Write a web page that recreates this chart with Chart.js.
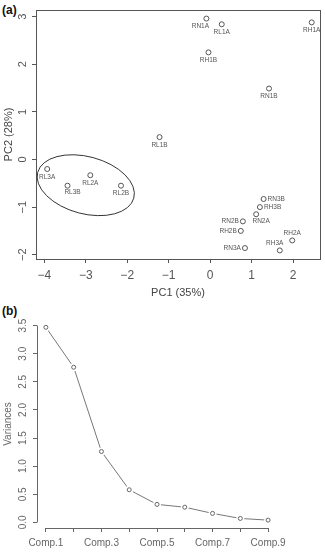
<!DOCTYPE html>
<html>
<head>
<meta charset="utf-8">
<script src="https://cdn.jsdelivr.net/npm/chart.js@4"></script>
<style>
 body{margin:0;background:#fff;width:325px;height:552px;position:relative;overflow:hidden;font-family:"Liberation Sans",Arial,sans-serif;}
 canvas{position:absolute;left:0;}
 #canvas_a{top:0;}
 #canvas_b{top:300px;}
 .panel{position:absolute;left:2px;font-weight:bold;font-size:12px;color:#111;}
</style>
</head>
<body>
<div class="panel" style="top:3px;">(a)</div>
<div class="panel" style="top:304px;">(b)</div>
<canvas id="canvas_a" width="325" height="300"></canvas>
<canvas id="canvas_b" width="325" height="252"></canvas>
<script>
// data (a) - PCA scores
var sample_names=["RN1A","RL1A","RH1A","RH1B","RN1B","RL1B","RL3A","RL2A","RL3B","RL2B","RN3B","RH3B","RN2A","RN2B","RH2B","RH2A","RH3A","RN3A"];
var pc1_values=[-0.09,0.28,2.45,-0.04,1.42,-1.22,-3.93,-2.89,-3.44,-2.15,1.29,1.20,1.11,0.79,0.74,1.98,1.68,0.84];
var pc2_values=[2.96,2.84,2.88,2.25,1.49,0.47,-0.20,-0.33,-0.55,-0.55,-0.83,-1.00,-1.15,-1.30,-1.50,-1.70,-1.91,-1.86];
var label_side=["bl","b","b","b","b","b","b","b","br","b","r","r","br","l","l","a","al","l"];
var pc1_ticks=[-4,-3,-2,-1,0,1,2];
var pc2_ticks=[-2,-1,0,1,2,3];
// data (b) - scree plot
var comp_labels=["Comp.1","Comp.2","Comp.3","Comp.4","Comp.5","Comp.6","Comp.7","Comp.8","Comp.9"];
var variances=[3.47,2.76,1.26,0.58,0.32,0.27,0.16,0.07,0.04];
var variance_ticks=[0,0.5,1,1.5,2,2.5,3,3.5];

var font_family='"Liberation Sans", Arial, sans-serif';
function minus(v){return String(v).replace("-","\u2212");}

/* box round the plot region + sample labels + ellipse */
var pca_plugin={
 id:"pca_plugin",
 afterDatasetsDraw:function(chart){
  var ctx=chart.ctx,a=chart.chartArea,xs=chart.scales.x,ys=chart.scales.y;
  ctx.save();
  // box
  ctx.strokeStyle="#555";ctx.lineWidth=1;
  ctx.strokeRect(Math.round(a.left)+0.5,Math.round(a.top)+0.5,Math.round(a.right-a.left),Math.round(a.bottom-a.top));
  // ellipse round the RL2/RL3 group
  var cx=xs.getPixelForValue(-3.0),cy=ys.getPixelForValue(-0.54);
  var rx=xs.getPixelForValue(-3.0+1.2)-cx,ry=ys.getPixelForValue(-0.54-0.6)-cy;
  ctx.beginPath();ctx.ellipse(cx,cy,rx,ry,15*Math.PI/180,0,2*Math.PI);
  ctx.strokeStyle="#333";ctx.stroke();
  // sample labels
  ctx.font="6.5px "+font_family;ctx.fillStyle="#555";
  var off={b:[0,8,"center"],bl:[-6,8,"center"],br:[5,7,"center"],l:[-4,0,"right"],r:[4,0,"left"],a:[0,-7,"center"],al:[-5,-7,"center"]};
  for(var i=0;i<sample_names.length;i++){
   var px=xs.getPixelForValue(pc1_values[i]),py=ys.getPixelForValue(pc2_values[i]);
   var o=off[label_side[i]];
   ctx.textAlign=o[2];ctx.textBaseline="middle";
   ctx.fillText(sample_names[i],px+o[0],py+o[1]);
  }
  ctx.restore();
 }
};

/* R style axis lines, only from first to last tick */
var r_axis_plugin={
 id:"r_axis_plugin",
 afterDraw:function(chart){
  var ctx=chart.ctx,a=chart.chartArea,xs=chart.scales.x,ys=chart.scales.y;
  ctx.save();
  ctx.strokeStyle="#666";ctx.lineWidth=1;
  ctx.beginPath();
  var xl=Math.round(a.left)+0.5,yb=Math.round(a.bottom)+0.5;
  ctx.moveTo(xl,ys.getPixelForValue(variance_ticks[0]));
  ctx.lineTo(xl,ys.getPixelForValue(variance_ticks[variance_ticks.length-1]));
  ctx.moveTo(xs.getPixelForValue(1),yb);
  ctx.lineTo(xs.getPixelForValue(comp_labels.length),yb);
  ctx.stroke();
  ctx.restore();
 }
};

// chart (a)
var ctx_a=document.getElementById("canvas_a").getContext("2d");
var points_a=pc1_values.map(function(v,i){return{x:v,y:pc2_values[i]};});
var chart_a=new Chart(ctx_a,{
 type:"scatter",
 data:{datasets:[{
  data:points_a,
  pointRadius:2.5,
  pointBorderWidth:1,
  pointBorderColor:"#555",
  pointBackgroundColor:"rgba(0,0,0,0)"
 }]},
 options:{
  responsive:false,
  animation:false,
  devicePixelRatio:1,
  layout:{padding:{top:10,right:2,left:0,bottom:0}},
  plugins:{legend:{display:false},tooltip:{enabled:false}},
  scales:{
   x:{
    type:"linear",min:-4.2,max:2.65,
    afterBuildTicks:function(s){s.ticks=pc1_ticks.map(function(v){return{value:v};});},
    afterFit:function(s){s.height=41;},
    border:{display:false},
    grid:{drawOnChartArea:false,drawTicks:true,tickLength:4,color:"#555"},
    ticks:{padding:5,color:"#555",font:{family:font_family,size:12},maxRotation:0,autoSkip:false,callback:function(v){return minus(v);}},
    title:{display:true,text:"PC1 (35%)",color:"#444",font:{family:font_family,size:11},padding:{top:0,bottom:0}}
   },
   y:{
    type:"linear",min:-2.09,max:3.14,
    afterBuildTicks:function(s){s.ticks=pc2_ticks.map(function(v){return{value:v};});},
    afterFit:function(s){s.width=36;},
    border:{display:false},
    grid:{drawOnChartArea:false,drawTicks:true,tickLength:4,color:"#555"},
    ticks:{padding:3,color:"#555",font:{family:font_family,size:11},minRotation:90,maxRotation:90,crossAlign:"center",autoSkip:false,callback:function(v){return minus(v);}},
    title:{display:true,text:"PC2 (28%)",color:"#444",font:{family:font_family,size:11},padding:{top:2,bottom:0}}
   }
  }
 },
 plugins:[pca_plugin]
});

// chart (b)
var ctx_b=document.getElementById("canvas_b").getContext("2d");
var points_b=variances.map(function(v,i){return{x:i+1,y:v};});
var chart_b=new Chart(ctx_b,{
 type:"line",
 data:{datasets:[
  // connecting line (drawn first)
  {data:points_b,order:3,borderColor:"#777",borderWidth:1,pointRadius:0,fill:false,tension:0},
  // white gap round each point (R type="b")
  {data:points_b,order:2,showLine:false,pointRadius:4,pointBorderWidth:0,pointBackgroundColor:"#fff",pointBorderColor:"#fff"},
  // open circles (drawn last)
  {data:points_b,order:1,showLine:false,pointRadius:2,pointBorderWidth:1,pointBorderColor:"#666",pointBackgroundColor:"#fff"}
 ]},
 options:{
  responsive:false,
  animation:false,
  devicePixelRatio:1,
  layout:{padding:{top:20,right:48,left:0,bottom:0}},
  plugins:{legend:{display:false},tooltip:{enabled:false}},
  scales:{
   x:{
    type:"linear",min:0.68,max:9.32,
    afterBuildTicks:function(s){s.ticks=comp_labels.map(function(c,i){return{value:i+1};});},
    afterFit:function(s){s.height=24;},
    border:{display:false},
    grid:{drawOnChartArea:false,drawTicks:true,tickLength:4,color:"#666"},
    ticks:{padding:5,color:"#666",font:{family:font_family,size:10},maxRotation:0,autoSkip:false,
     callback:function(v){var i=Math.round(v)-1;return i%2===0?comp_labels[i]:"";}}
   },
   y:{
    type:"linear",min:-0.1,max:3.6,
    afterBuildTicks:function(s){s.ticks=variance_ticks.map(function(v){return{value:v};});},
    afterFit:function(s){s.width=37;},
    border:{display:false},
    grid:{drawOnChartArea:false,drawTicks:true,tickLength:4,color:"#666"},
    ticks:{padding:3,color:"#666",font:{family:font_family,size:10},minRotation:90,maxRotation:90,crossAlign:"center",autoSkip:false,
     callback:function(v){return v.toFixed(1);}},
    title:{display:true,text:"Variances",color:"#666",font:{family:font_family,size:10},padding:{top:2,bottom:0}}
   }
  }
 },
 plugins:[r_axis_plugin]
});
</script>
</body>
</html>
